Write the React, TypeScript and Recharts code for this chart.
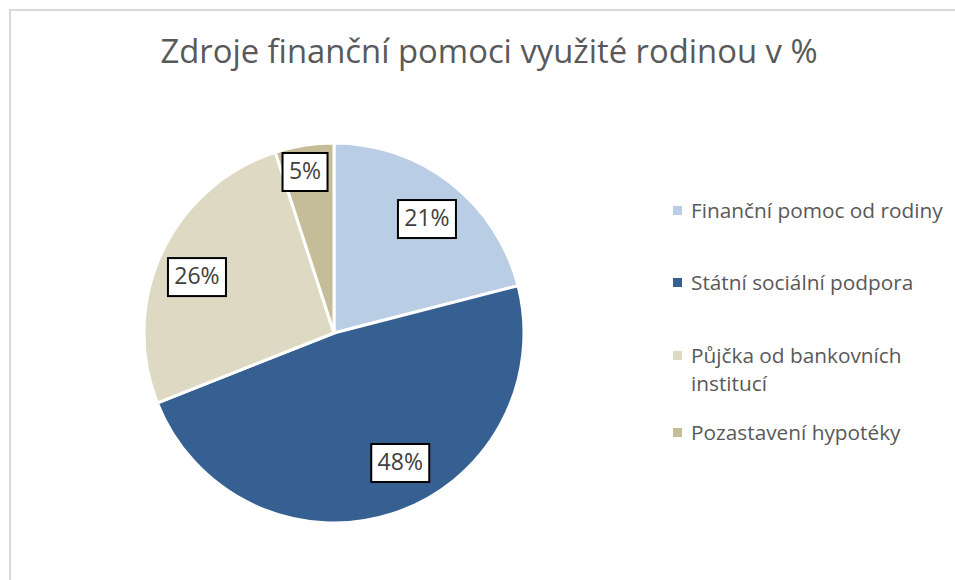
import { PieChart, Pie, Cell, Legend } from "recharts";

const categories = [
  "Finanční pomoc od rodiny",
  "Státní sociální podpora",
  "Půjčka od bankovních institucí",
  "Pozastavení hypotéky",
];
const shares = [21, 48, 26, 5];
const colors = ["#B9CDE5", "#376092", "#DDD9C3", "#C4BD97"];

const data = categories.map((name, i) => ({ name, value: shares[i] }));

const RAD = Math.PI / 180;

// Excel "best fit" nudges the label boxes a little off the slice middle
const labelAngleShift = [-1.4, 9, 3, 1.2];
const labelRadius = [0.774, 0.768, 0.779, 0.861];

function BoxLabel(props: any) {
  const { cx, cy, midAngle, outerRadius, value, index } = props;
  const r = outerRadius * labelRadius[index];
  const a = (midAngle + labelAngleShift[index]) * RAD;
  const x = cx + r * Math.cos(-a);
  const y = cy + r * Math.sin(-a);
  const text = `${value}%`;
  const w = text.length * 13 + 19;
  const h = 38;
  return (
    <g>
      <rect
        x={x - w / 2}
        y={y - h / 2}
        width={w}
        height={h}
        fill="#ffffff"
        stroke="#000000"
        strokeWidth={2}
      />
      <text
        x={x}
        y={y + 1}
        textAnchor="middle"
        dominantBaseline="middle"
        fontSize={23}
        fill="#404040"
        fontFamily="'Open Sans', sans-serif"
      >
        {text}
      </text>
    </g>
  );
}

function LegendList() {
  const gaps = [44, 45, 21, 0];
  return (
    <div style={{ fontFamily: "'Open Sans', sans-serif", fontSize: 20.8, color: "#595959" }}>
      {data.map((d, i) => (
        <div
          key={d.name}
          style={{ display: "flex", alignItems: "flex-start", marginBottom: gaps[i], width: 285 }}
        >
          <span
            style={{
              display: "inline-block",
              width: 9,
              height: 9,
              background: colors[i],
              marginTop: 10,
              marginRight: 9,
              flexShrink: 0,
            }}
          />
          <span style={{ lineHeight: "28px", width: 250, whiteSpace: i === 2 ? "normal" : "nowrap" }}>
            {d.name}
          </span>
        </div>
      ))}
    </div>
  );
}

export default function App() {
  return (
    <div style={{ position: "fixed", left: 0, top: 0, width: 955, height: 580, background: "#fff", overflow: "hidden" }}>
      <div
        style={{
          position: "absolute",
          left: 9,
          top: 9,
          width: 960,
          height: 600,
          border: "2px solid #d9d9d9",
          boxSizing: "border-box",
        }}
      />
      <div
        style={{
          position: "absolute",
          left: 0,
          top: 28,
          width: 978,
          textAlign: "center",
          fontFamily: "'Open Sans', sans-serif",
          fontSize: 32.8,
          color: "#595959",
        }}
      >
        Zdroje finanční pomoci využité rodinou v %
      </div>
      <div style={{ position: "absolute", left: 0, top: 0 }}>
        <PieChart width={955} height={580} margin={{ top: 0, right: 0, bottom: 0, left: 0 }}>
          <Pie
            data={data}
            dataKey="value"
            nameKey="name"
            cx={334}
            cy={333}
            outerRadius={190}
            startAngle={90}
            endAngle={-270}
            stroke="#ffffff"
            strokeWidth={3}
            label={BoxLabel}
            labelLine={false}
            isAnimationActive={false}
          >
            {data.map((d, i) => (
              <Cell key={d.name} fill={colors[i]} />
            ))}
          </Pie>
          <Legend
            layout="vertical"
            align="right"
            verticalAlign="top"
            content={() => <LegendList />}
            wrapperStyle={{ left: 673, top: 196, width: 285 }}
          />
        </PieChart>
      </div>
    </div>
  );
}
